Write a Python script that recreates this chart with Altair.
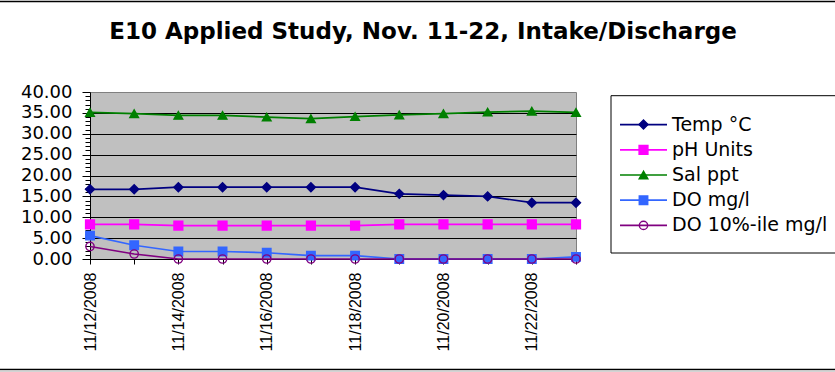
import altair as alt
import pandas as pd

# Sampling days (x categories)
dates = ["11/12/2008", "11/13/2008", "11/14/2008", "11/15/2008", "11/16/2008", "11/17/2008",
         "11/18/2008", "11/19/2008", "11/20/2008", "11/21/2008", "11/22/2008", "11/23/2008"]

series_names = ["Temp °C", "pH Units", "Sal ppt", "DO mg/l", "DO 10%-ile mg/l"]

temp_c = [16.7, 16.7, 17.2, 17.2, 17.2, 17.2, 17.2, 15.6, 15.3, 15.0, 13.5, 13.5]
ph_units = [8.3, 8.3, 8.0, 8.0, 8.0, 8.0, 8.0, 8.3, 8.3, 8.3, 8.3, 8.3]
sal_ppt = [35.1, 34.8, 34.4, 34.4, 34.0, 33.6, 34.1, 34.5, 34.8, 35.2, 35.4, 35.1]
do_mgl = [5.6, 3.3, 1.8, 1.8, 1.5, 0.8, 0.8, 0.0, 0.0, 0.0, 0.0, 0.5]
do10_mgl = [3.0, 1.2, 0.0, 0.0, 0.0, 0.0, 0.0, 0.0, 0.0, 0.0, 0.0, 0.0]

title_text = "E10 Applied Study, Nov. 11-22, Intake/Discharge"

# y axis ticks: minor every unit, labelled every 5
y_ticks = list(range(0, 41))

line_colors = ["#000080", "#FF00FF", "#008000", "#3366FF", "#800080"]
marker_fills = ["#000080", "#FF00FF", "#008000", "#3366FF", "transparent"]
marker_shapes = ["diamond", "square", "triangle-up", "square", "circle"]
marker_sizes = [81, 69, 45, 25, 16]

values_by_series = [temp_c, ph_units, sal_ppt, do_mgl, do10_mgl]
rows = []
for name, vals in zip(series_names, values_by_series):
    for d, v in zip(dates, vals):
        rows.append({"date": d, "series": name, "value": v})
df = pd.DataFrame(rows)
legend_df = pd.DataFrame({"series": series_names})

stroke_enc = alt.Stroke("series:N", scale=alt.Scale(domain=series_names, range=line_colors), legend=None)
fill_enc = alt.Fill("series:N", scale=alt.Scale(domain=series_names, range=marker_fills), legend=None)
shape_enc = alt.Shape("series:N", scale=alt.Scale(domain=series_names, range=marker_shapes), legend=None)
size_enc = alt.Size("series:N", scale=alt.Scale(domain=series_names, range=marker_sizes), legend=None)

x_enc = alt.X(
    "date:O", sort=dates, title=None,
    scale=alt.Scale(type="point", padding=0),
    axis=alt.Axis(
        labelAngle=270, labelFont="Liberation Sans", labelFontSize=16, labelColor="black",
        labelExpr="parseInt(substring(datum.value, 3, 5)) % 2 === 0 ? datum.value : ''",
        labelOverlap=False, labelPadding=8,
        tickColor="black", tickSize=5, domainColor="black", grid=False,
    ),
)
y_enc = alt.Y(
    "value:Q", title=None,
    scale=alt.Scale(domain=[0, 40], nice=False, zero=True),
    axis=alt.Axis(
        values=y_ticks,
        labelExpr="datum.value % 5 === 0 ? format(datum.value, '.2f') : ''",
        labelFont="DejaVu Sans", labelFontSize=18, labelColor="black",
        labelOverlap=False, labelBound=False, labelPadding=10,
        tickColor="black",
        tickSize={"condition": {"test": "datum.value % 5 === 0", "value": 8}, "value": 5},
        domainColor="black",
        grid=True, gridColor="black", gridWidth=1,
        gridOpacity={"condition": {"test": "datum.value % 5 === 0 && datum.value < 40", "value": 1}, "value": 0},
    ),
)

base = alt.Chart(df)
lines = base.mark_line(strokeWidth=1.7).encode(x=x_enc, y=y_enc, stroke=stroke_enc, detail="series:N")
points = base.mark_point(filled=False, strokeWidth=1.4, opacity=1).encode(
    x=x_enc, y=y_enc, stroke=stroke_enc, fill=fill_enc, shape=shape_enc, size=size_enc
)
main = alt.layer(lines, points)

# Hand-built legend to the right of the plot
leg_y = alt.Y("series:N", sort=series_names,
              scale=alt.Scale(domain=series_names, range=[20, 146], padding=0), axis=None)
one_row = alt.Data(values=[{"title": title_text}])
leg_box = alt.Chart(one_row).mark_rect(fill="white", stroke="black", strokeWidth=1).encode(
    x=alt.value(521), x2=alt.value(760), y=alt.value(3.7), y2=alt.value(161)
)
leg_lines = alt.Chart(legend_df).mark_rule(strokeWidth=1.7).encode(
    x=alt.value(530), x2=alt.value(577), y=leg_y, stroke=stroke_enc
)
leg_points = alt.Chart(legend_df).mark_point(filled=False, strokeWidth=1.4, opacity=1).encode(
    x=alt.value(553.5), y=leg_y, stroke=stroke_enc, fill=fill_enc, shape=shape_enc, size=size_enc
)
leg_text = alt.Chart(legend_df).mark_text(
    align="left", baseline="middle", font="DejaVu Sans", fontSize=19, color="black"
).encode(x=alt.value(582), y=leg_y, text="series:N")
legend = alt.layer(leg_box, leg_lines, leg_points, leg_text)

# Outer frame lines and the chart title
frame_top = alt.Chart(one_row).mark_rule(color="black", strokeWidth=1.5).encode(
    x=alt.value(-90), x2=alt.value(745), y=alt.value(-90.5)
)
frame_bottom = alt.Chart(one_row).mark_rule(color="black", strokeWidth=1.5).encode(
    x=alt.value(-90), x2=alt.value(745), y=alt.value(277.5)
)
frame_strip = alt.Chart(one_row).mark_rect(fill="#d4d4d4").encode(
    x=alt.value(-90), x2=alt.value(745), y=alt.value(278.4), y2=alt.value(282)
)
title_mark = alt.Chart(one_row).mark_text(
    align="center", baseline="alphabetic", font="DejaVu Sans", fontSize=23,
    fontWeight="bold", color="black"
).encode(x=alt.value(333), y=alt.value(-53), text="title:N")
frame = alt.layer(frame_top, frame_bottom, frame_strip, title_mark)

chart = alt.layer(frame, main, legend).resolve_scale(y="independent").properties(
    width=486,
    height=167,
    autosize=alt.AutoSizeParams(type="none"),
    padding={"left": 90, "top": 92, "right": 259, "bottom": 113},
    background="white",
).configure_view(fill="#C0C0C0", stroke="#808080", strokeWidth=1)

chart.save("out.html", embed_options={"renderer": "svg", "actions": False})
